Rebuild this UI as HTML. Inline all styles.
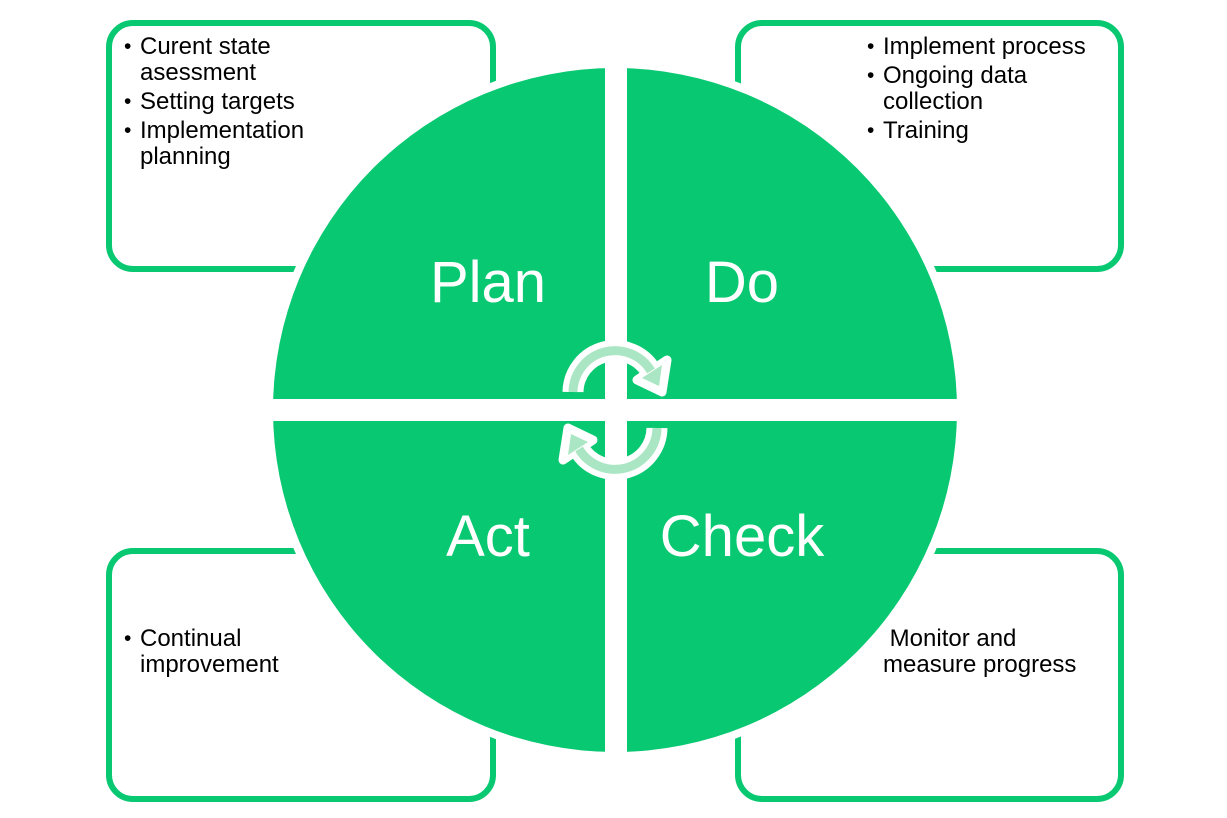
<!DOCTYPE html>
<html><head><style>
body{margin:0;width:1227px;height:818px;background:#fff;overflow:hidden;font-family:"Liberation Sans",Arial,sans-serif}
svg{position:absolute;left:0;top:0}
.t{position:absolute;font-size:24px;line-height:26px;color:#000}
.t div{position:relative;padding-left:16px}
.t div.b:before{content:"•";position:absolute;left:0;font-size:21px}
</style></head><body>
<svg width="1227" height="818">
<g fill="#fff" stroke="#09c872" stroke-width="6">
<rect x="109" y="23" width="384" height="246" rx="24"/>
<rect x="738" y="23" width="383" height="246" rx="24"/>
<rect x="109" y="551" width="384" height="248" rx="24"/>
<rect x="738" y="551" width="383" height="248" rx="24"/>
</g>
<circle cx="615" cy="410" r="350" fill="#fff"/>
<circle cx="615" cy="410" r="342" fill="#09c872"/>
<rect x="605" y="50" width="22" height="720" fill="#fff"/>
<rect x="255" y="399" width="720" height="22" fill="#fff"/>
<g id="arr">
<path d="M573 392 A42 42 0 0 1 651 371" fill="none" stroke="#fff" stroke-width="21"/>
<polygon points="667,360 637,380 662,392" fill="#fff" stroke="#fff" stroke-width="9" stroke-linejoin="round"/>
<path d="M573 392 A42 42 0 0 1 651 371" fill="none" stroke="#abe6c4" stroke-width="9"/>
<polygon points="662,365 642,378 659,386" fill="#abe6c4"/>
</g>
<use href="#arr" transform="rotate(180 615 410)"/>
<g fill="#fff" font-family="Liberation Sans,Arial,sans-serif" font-size="58" text-anchor="middle">
<text x="488" y="302">Plan</text>
<text x="742" y="302">Do</text>
<text x="488" y="556">Act</text>
<text x="742" y="556">Check</text>
</g>
</svg>
<div class="t" style="left:124px;top:34px">
<div class="b">Curent state<br>asessment</div>
<div class="b" style="margin-top:3px">Setting targets</div>
<div class="b" style="margin-top:3px">Implementation<br>planning</div>
</div>
<div class="t" style="left:867px;top:34px">
<div class="b">Implement process</div>
<div class="b" style="margin-top:3px">Ongoing data<br>collection</div>
<div class="b" style="margin-top:3px">Training</div>
</div>
<div class="t" style="left:124px;top:626px">
<div class="b">Continual<br>improvement</div>
</div>
<div class="t" style="left:867px;top:626px">
<div style="padding-left:16px">&nbsp;Monitor and<br>measure progress</div>
</div>
</body></html>
